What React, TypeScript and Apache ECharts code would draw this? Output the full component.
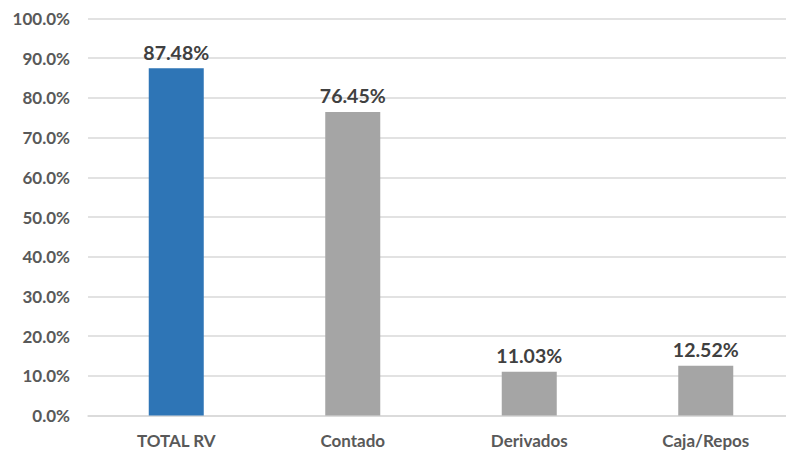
import React, { useEffect, useRef } from "react";
import * as echarts from "echarts";

const categories = ["TOTAL RV", "Contado", "Derivados", "Caja/Repos"];
const values = [87.48, 76.45, 11.03, 12.52];
const barColors = ["#2E75B6", "#A5A5A5", "#A5A5A5", "#A5A5A5"];

export default function App() {
  const ref = useRef<HTMLDivElement>(null);
  useEffect(() => {
    const chart = echarts.init(ref.current!, null, { renderer: "svg" });
    chart.setOption({
      animation: false,
      backgroundColor: "#FFFFFF",
      grid: { left: 88, top: 18.5, width: 706, height: 397, containLabel: false },
      xAxis: {
        type: "category",
        data: categories,
        axisLine: { show: true, lineStyle: { color: "#D9D9D9", width: 1.5 } },
        axisTick: { show: false },
        axisLabel: {
          color: "#595959",
          fontFamily: "Lato",
          fontWeight: "bold",
          fontSize: 17,
          margin: 16,
        },
      },
      yAxis: {
        type: "value",
        min: 0,
        max: 100,
        interval: 10,
        axisLine: { show: false },
        axisTick: { show: false },
        splitLine: { lineStyle: { color: "#D9D9D9", width: 1.5 } },
        axisLabel: {
          color: "#595959",
          fontFamily: "Lato",
          fontWeight: "bold",
          fontSize: 17,
          margin: 18,
          formatter: (v: number) => v.toFixed(1) + "%",
        },
      },
      series: [
        {
          type: "bar",
          barWidth: 55,
          data: values.map((v, i) => ({ value: v, itemStyle: { color: barColors[i] } })),
          label: {
            show: true,
            position: "top",
            distance: 6,
            color: "#404040",
            fontFamily: "Lato",
            fontWeight: "bold",
            fontSize: 19.5,
            formatter: (p: any) => p.value.toFixed(2) + "%",
          },
        },
      ],
    });
    return () => chart.dispose();
  }, []);
  return (
    <div
      style={{
        position: "absolute",
        left: 0,
        top: 0,
        width: 786,
        height: 450,
        overflow: "hidden",
        background: "#FFFFFF",
      }}
    >
      <div ref={ref} style={{ width: 800, height: 450 }} />
    </div>
  );
}
